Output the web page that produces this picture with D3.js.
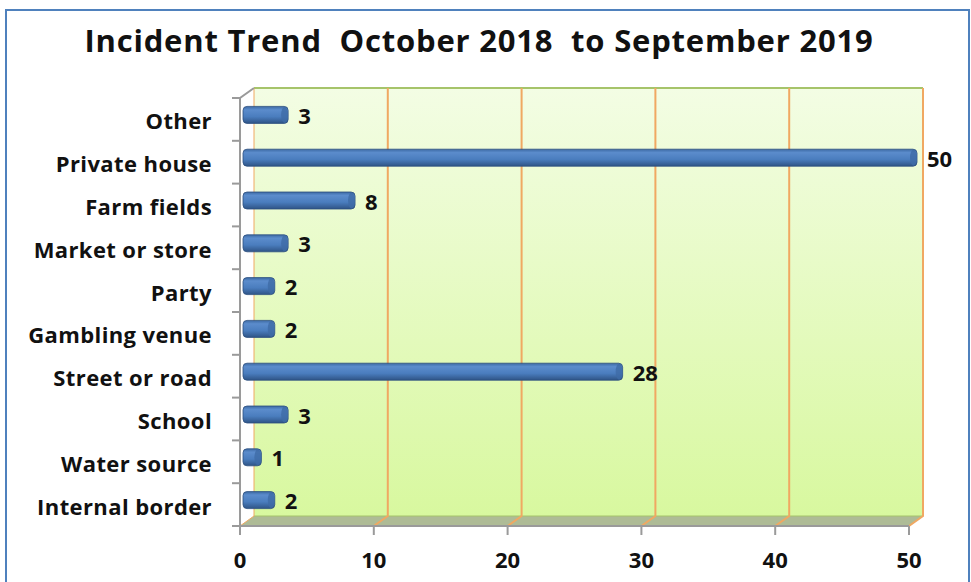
<!DOCTYPE html>
<html lang="en">
<head>
<meta charset="utf-8">
<title>Incident Trend</title>
<script src="https://cdnjs.cloudflare.com/ajax/libs/d3/7.8.5/d3.min.js"></script>
<style>
  body { margin: 0; background: #fff; }
  text { font-family: "Open Sans", sans-serif; font-weight: bold; fill: #111; }
</style>
</head>
<body>
<div id="chart"></div>
<script>
// data, top to bottom as in the chart
const categories = ["Other", "Private house", "Farm fields", "Market or store", "Party",
                    "Gambling venue", "Street or road", "School", "Water source", "Internal border"];
const counts = [3, 50, 8, 3, 2, 2, 28, 3, 1, 2];
const xTicks = [0, 10, 20, 30, 40, 50];
const title = "Incident Trend  October 2018  to September 2019";

const width = 971, height = 582;
const depth = {x: 14, y: -10};   // front plane -> back wall offset
const front = {left: 240, right: 909, top: 98, bottom: 526};

const svg = d3.select("#chart").append("svg")
    .attr("width", width).attr("height", height);

const defs = svg.append("defs");
const wallGrad = defs.append("linearGradient").attr("id", "wall")
    .attr("x1", 0).attr("y1", 0).attr("x2", 0).attr("y2", 1);
wallGrad.append("stop").attr("offset", "0%").attr("stop-color", "#f3fde4");
wallGrad.append("stop").attr("offset", "100%").attr("stop-color", "#d8f89f");

const barGrad = defs.append("linearGradient").attr("id", "bar")
    .attr("x1", 0).attr("y1", 0).attr("x2", 0).attr("y2", 1);
barGrad.append("stop").attr("offset", "0%").attr("stop-color", "#3d6aa4");
barGrad.append("stop").attr("offset", "20%").attr("stop-color", "#5b8ccc");
barGrad.append("stop").attr("offset", "60%").attr("stop-color", "#4a7dbe");
barGrad.append("stop").attr("offset", "100%").attr("stop-color", "#2f5486");

// outer frame
svg.append("rect")
    .attr("x", 6).attr("y", 10).attr("width", 963).attr("height", 600)
    .attr("fill", "#fff").attr("stroke", "#4f81bd").attr("stroke-width", 2);

// title
svg.append("text")
    .attr("x", 479).attr("y", 52)
    .attr("text-anchor", "middle")
    .style("white-space", "pre")
    .style("font-size", "31px")
    .style("letter-spacing", "0.8px")
    .text(title);

const x = d3.scaleLinear().domain([0, 50]).range([front.left, front.right]);
const y = d3.scaleBand().domain(categories).range([front.top, front.bottom]);
const xb = v => x(v) + depth.x;   // x on the back wall

// back wall
svg.append("rect")
    .attr("x", xb(0)).attr("y", front.top + depth.y)
    .attr("width", xb(50) - xb(0)).attr("height", front.bottom - front.top)
    .attr("fill", "url(#wall)");
svg.append("line")
    .attr("x1", xb(0)).attr("x2", xb(50))
    .attr("y1", front.top + depth.y).attr("y2", front.top + depth.y)
    .attr("stroke", "#a6c46a").attr("stroke-width", 2);

// floor
svg.append("path")
    .attr("d", `M${x(0)},${front.bottom} L${xb(0)},${front.bottom + depth.y} L${xb(50)},${front.bottom + depth.y} L${x(50)},${front.bottom} Z`)
    .attr("fill", "#aebb96");
svg.append("line")
    .attr("x1", xb(0)).attr("x2", xb(50))
    .attr("y1", front.bottom + depth.y).attr("y2", front.bottom + depth.y)
    .attr("stroke", "#a6c46a").attr("stroke-width", 1);

// gridlines: floor diagonal + wall vertical
const grid = svg.append("g").attr("class", "grid")
    .attr("fill", "none").attr("stroke", "#f0a862").attr("stroke-width", 2);
grid.selectAll("path")
    .data(xTicks)
    .join("path")
    .attr("stroke-width", d => d === 0 ? 1 : 2)
    .attr("d", d => `M${x(d)},${front.bottom} L${xb(d)},${front.bottom + depth.y} L${xb(d)},${front.top + depth.y}`);

// left axis (wall edge) with category ticks
const yAxis = svg.append("g").attr("stroke", "#9a9a9a").attr("stroke-width", 2).attr("fill", "none");
yAxis.append("path")
    .attr("d", `M${x(0)},${front.bottom} L${x(0)},${front.top} L${xb(0)},${front.top + depth.y}`);
yAxis.selectAll("line")
    .data(categories.map(c => y(c)).concat([front.bottom]))
    .join("line")
    .attr("x1", x(0) - 8).attr("x2", x(0))
    .attr("y1", d => d).attr("y2", d => d);

// bottom axis
const xAxis = svg.append("g").attr("stroke", "#9a9a9a").attr("stroke-width", 2);
xAxis.append("line")
    .attr("x1", x(0) - 8).attr("x2", x(50))
    .attr("y1", front.bottom).attr("y2", front.bottom);
xAxis.selectAll("line.tick")
    .data(xTicks)
    .join("line")
    .attr("class", "tick")
    .attr("x1", d => x(d)).attr("x2", d => x(d))
    .attr("y1", front.bottom).attr("y2", front.bottom + 9);

svg.append("g").selectAll("text")
    .data(xTicks)
    .join("text")
    .attr("x", d => x(d)).attr("y", 568)
    .attr("text-anchor", "middle")
    .style("font-size", "22px")
    .text(d => d);

// category labels
svg.append("g").selectAll("text")
    .data(categories)
    .join("text")
    .attr("x", 212)
    .attr("y", d => y(d) + y.bandwidth() / 2 + 10)
    .attr("text-anchor", "end")
    .style("font-size", "22px")
    .style("letter-spacing", "0.4px")
    .text(d => d);

// bars
const barH = 17, barStart = x(0) + 3, barDx = 8, barDy = -4.5;
const bars = svg.append("g").selectAll("g")
    .data(counts)
    .join("g");
bars.append("rect")
    .attr("x", barStart)
    .attr("y", (d, i) => y(categories[i]) + y.bandwidth() / 2 + barDy - barH / 2)
    .attr("width", d => x(d) + barDx - barStart)
    .attr("height", barH)
    .attr("rx", 4)
    .attr("fill", "url(#bar)")
    .attr("stroke", "#2c4f7f").attr("stroke-width", 0.8);
bars.append("ellipse")
    .attr("cx", d => x(d) + barDx - 3.5)
    .attr("cy", (d, i) => y(categories[i]) + y.bandwidth() / 2 + barDy)
    .attr("rx", 3.5).attr("ry", barH / 2 - 0.5)
    .attr("fill", "#3f6ba6").attr("opacity", 0.8);

// value labels
svg.append("g").selectAll("text")
    .data(counts)
    .join("text")
    .attr("x", d => x(d) + barDx + 10)
    .attr("y", (d, i) => y(categories[i]) + y.bandwidth() / 2 + barDy + 9)
    .style("font-size", "22px")
    .text(d => d);
</script>
</body>
</html>
